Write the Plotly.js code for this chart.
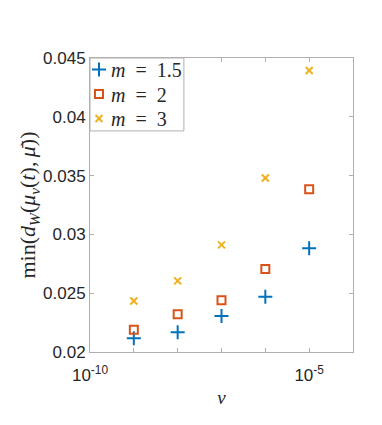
<!DOCTYPE html>
<html>
<head>
<meta charset="utf-8">
<script src="https://cdn.plot.ly/plotly-3.0.1.min.js"></script>
<style>html,body{margin:0;padding:0;background:#fff;}#chart{width:382px;height:425px;}</style>
</head>
<body>
<div id="chart"></div>
<script>
var nu = [1e-9, 1e-8, 1e-7, 1e-6, 1e-5];
var m15 = [0.02117, 0.02168, 0.02307, 0.02469, 0.02883];
var m2 = [0.0219, 0.02321, 0.0244, 0.02705, 0.03383];
var m3 = [0.02434, 0.02605, 0.02911, 0.0348, 0.04393];
var xTickVals = [1e-10, 1e-5];
var xTickText = ['10<sup>-10</sup>', '10<sup>-5</sup>'];
var xMinorVals = [1e-9, 1e-8, 1e-7, 1e-6, 1e-4];
var seriesNames = ['<i>m</i>\u2002=\u20021.5', '<i>m</i>\u2002=\u20022', '<i>m</i>\u2002=\u20023'];

var axisColor = '#b0b0b0';
var traces = [
  {x: nu, y: m15, name: seriesNames[0], type: 'scatter', mode: 'markers',
   marker: {symbol: 'cross-thin-open', size: 10, color: '#0072BD', line: {color: '#0072BD', width: 2}}},
  {x: nu, y: m2, name: seriesNames[1], type: 'scatter', mode: 'markers',
   marker: {symbol: 'square-open', size: 8, color: '#D95319', line: {color: '#D95319', width: 2}}},
  {x: nu, y: m3, name: seriesNames[2], type: 'scatter', mode: 'markers',
   marker: {symbol: 'x-thin-open', size: 7, color: '#EDB120', line: {color: '#EDB120', width: 2}}}
];
var layout = {
  width: 382, height: 425,
  margin: {l: 90, r: 29, t: 58, b: 73},
  paper_bgcolor: '#fff', plot_bgcolor: '#fff',
  font: {family: 'Liberation Sans, Arial, sans-serif', size: 17, color: '#262626'},
  showlegend: true,
  legend: {x: -0.03, y: 1.024, xanchor: 'left', yanchor: 'top', bgcolor: 'rgba(0,0,0,0)',
           borderwidth: 0,
           font: {family: 'Liberation Serif, DejaVu Serif, serif', size: 20, color: '#262626'},
           tracegroupgap: 0, itemwidth: 30},
  shapes: [{type: 'rect', xref: 'paper', yref: 'paper', x0: 0, x1: 0.357, y0: 0.752, y1: 1,
            line: {color: axisColor, width: 1}, fillcolor: '#fff', layer: 'above'}],
  xaxis: {type: 'log', range: [-10, -4], tickmode: 'array', tickvals: xTickVals, ticktext: xTickText,
          ticks: 'inside', ticklen: 4, tickcolor: axisColor, showgrid: false, zeroline: false,
          minor: {tickmode: 'array', tickvals: xMinorVals, ticks: 'inside', ticklen: 4, tickcolor: axisColor, showgrid: false},
          showline: true, linecolor: axisColor, linewidth: 1, mirror: 'ticks',
          tickfont: {size: 17}, tickangle: 0, ticklabelstandoff: 8,
          title: {text: '<i>ν</i>', font: {family: 'Liberation Serif, DejaVu Serif, serif', size: 19}, standoff: 6}},
  yaxis: {range: [0.02, 0.045], tick0: 0.02, dtick: 0.005,
          ticks: 'inside', ticklen: 4, tickcolor: axisColor, showgrid: false, zeroline: false,
          showline: true, linecolor: axisColor, linewidth: 1, mirror: 'ticks',
          tickfont: {size: 17},
          title: {text: 'min(<i>d</i><sub><i>W</i></sub>(<i>μ</i><sub><i>ν</i></sub>(<i>t</i>),\u2009<i>μ̄</i>))',
                  font: {family: 'Liberation Serif, DejaVu Serif, serif', size: 22}, standoff: 0}}
};
Plotly.newPlot('chart', traces, layout, {displayModeBar: false, staticPlot: true}).then(function () {
  var legendLeft = 90 + layout.legend.x * 263;
  var items = document.querySelectorAll('.legend .traces');
  var firstY = null;
  items.forEach(function (g, i) {
    var m = /translate\(\s*([-\d.]+)[ ,]+([-\d.]+)/.exec(g.getAttribute('transform') || '');
    var tx = m ? parseFloat(m[1]) : 0;
    var ty = m ? parseFloat(m[2]) : 0;
    if (firstY === null) { firstY = ty - 1; }
    g.setAttribute('transform', 'translate(' + tx + ',' + (firstY + i * 24.5) + ')');
    var t = g.querySelector('.legendtext');
    if (t) { t.setAttribute('x', 111 - legendLeft); }
    var pts = g.querySelector('.legendpoints');
    if (pts) { pts.setAttribute('transform', 'translate(' + (99 - legendLeft - 20) + ',0)'); }
  });
});
</script>
</body>
</html>
